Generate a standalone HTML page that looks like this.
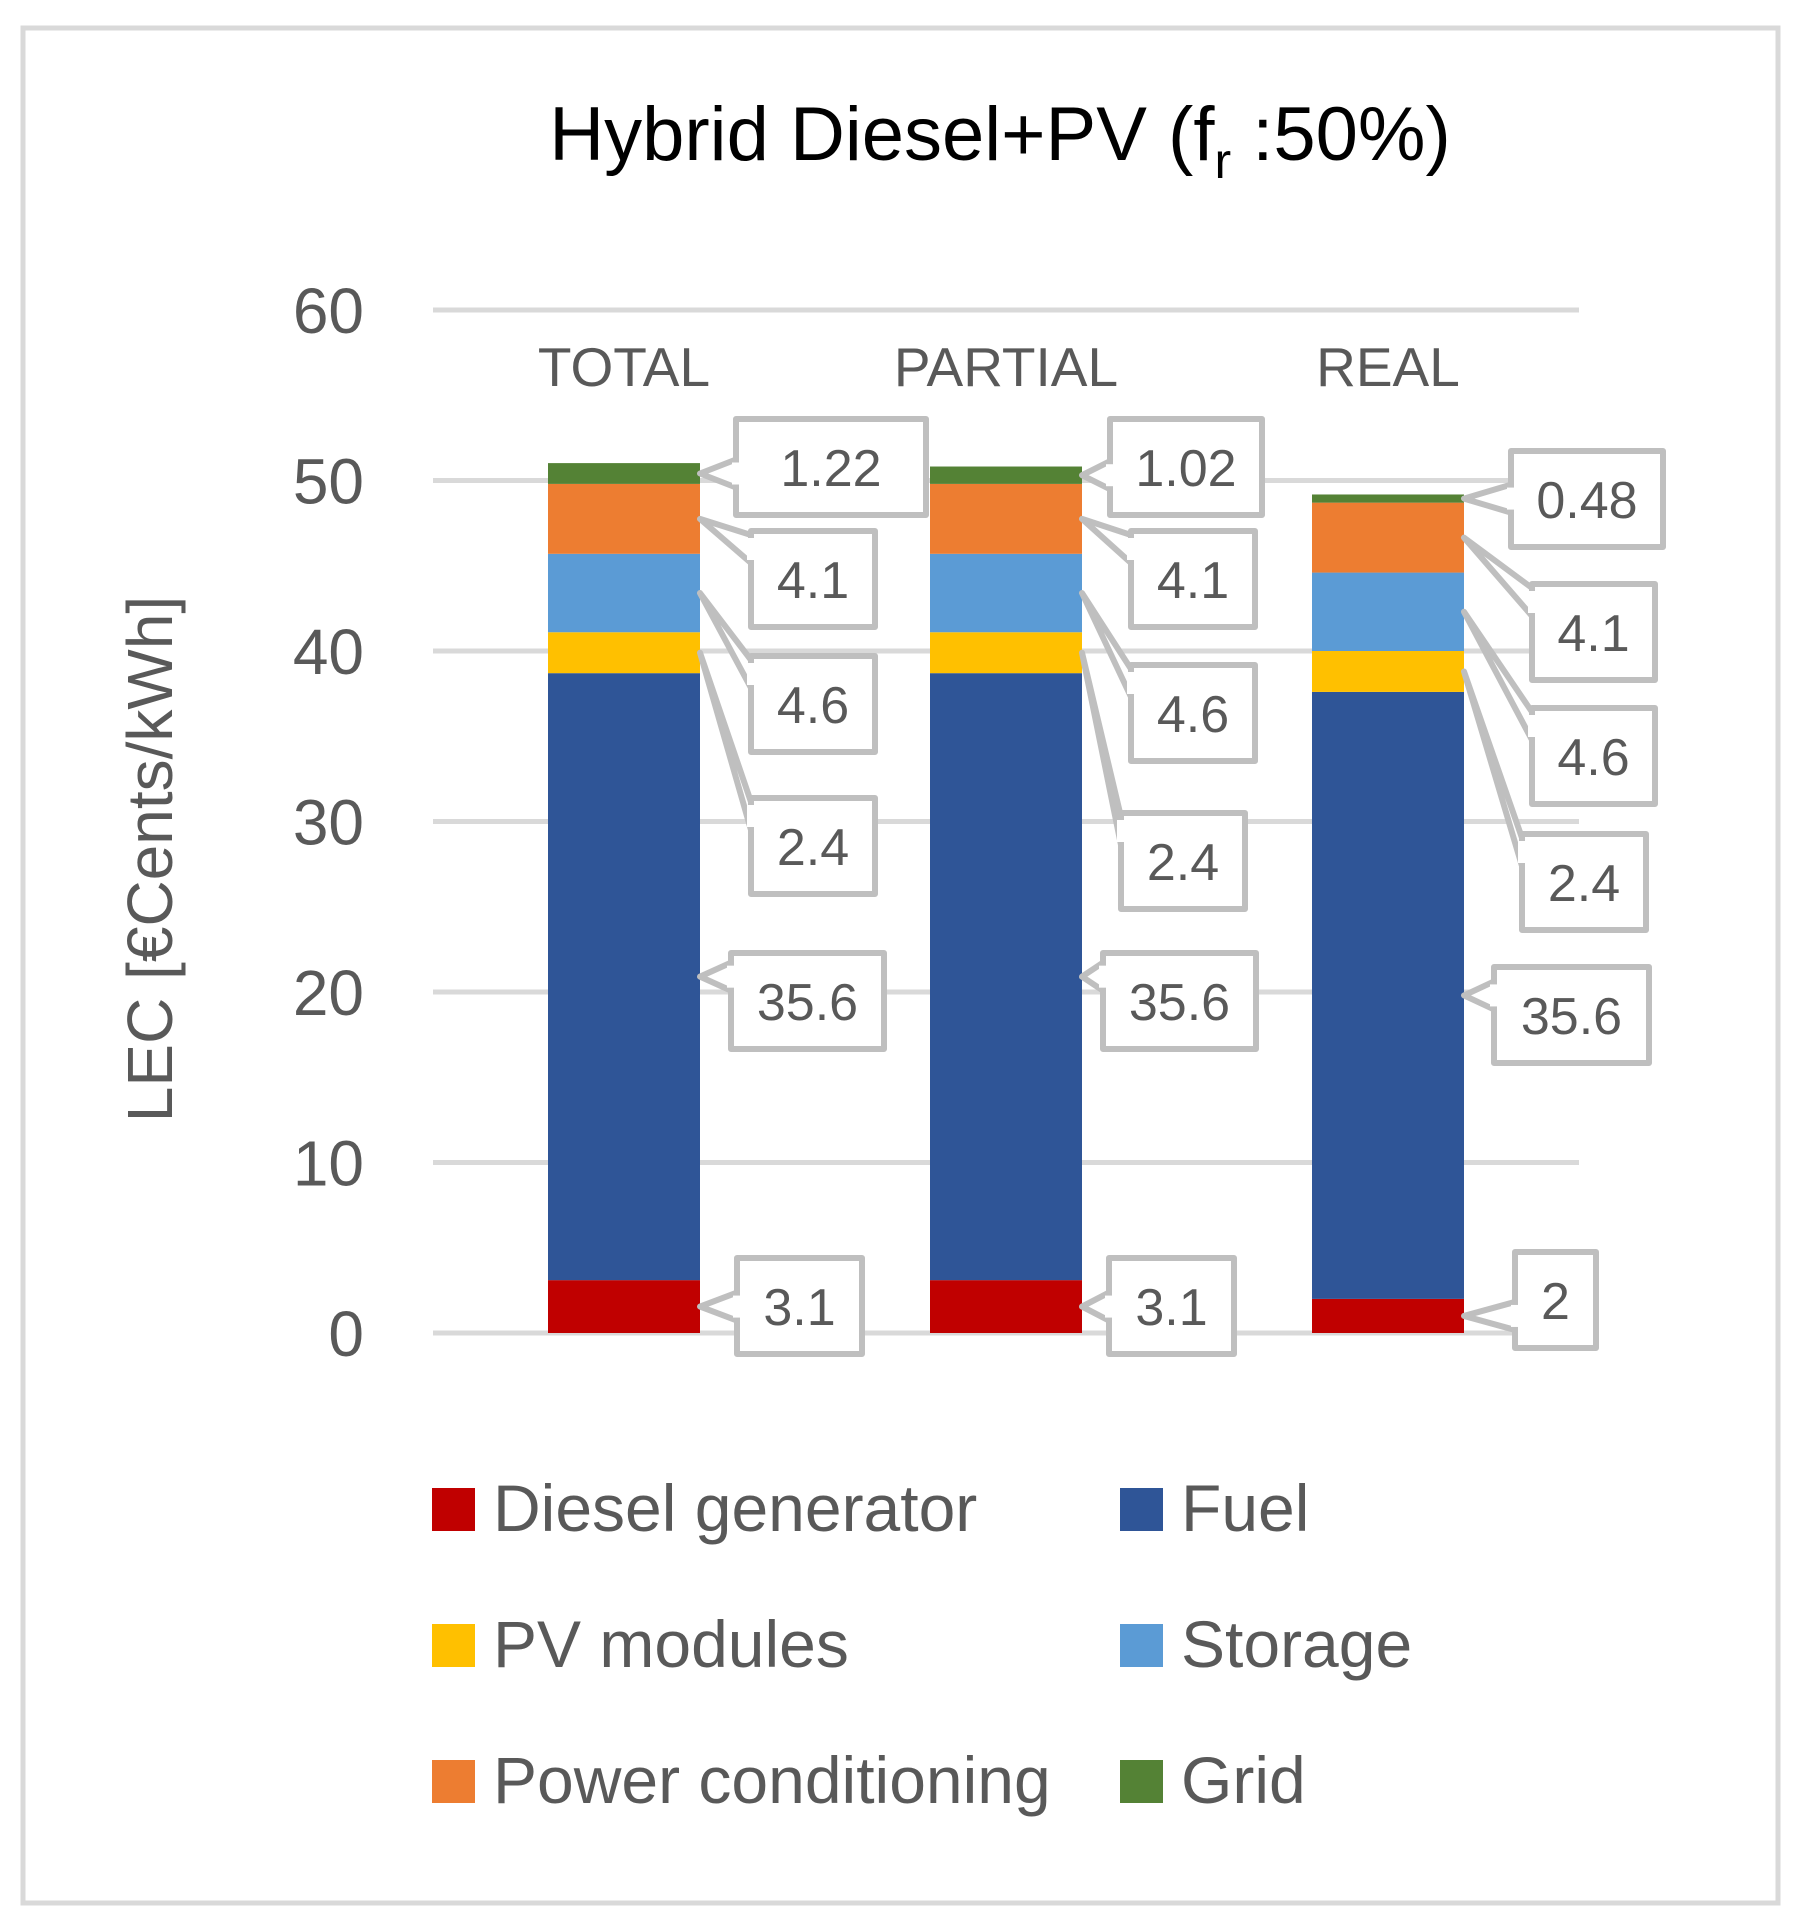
<!DOCTYPE html>
<html><head><meta charset="utf-8"><style>
html,body{margin:0;padding:0;background:#fff}
svg{display:block}
text{font-family:"Liberation Sans",sans-serif;fill:#595959}
</style></head><body>
<svg id="chart" width="1797" height="1920" viewBox="0 0 1797 1920">
<rect x="23" y="28" width="1755" height="1875" fill="#fff" stroke="#d9d9d9" stroke-width="5"/>
<text x="1000" y="160" font-size="76" text-anchor="middle" style="fill:#000">Hybrid Diesel+PV (f<tspan font-size="50" dy="18">r</tspan><tspan dy="-18"> :50%)</tspan></text>
<text transform="translate(172,859) rotate(-90)" font-size="64" text-anchor="middle">LEC [€Cents/kWh]</text>
<g id="grid"></g><g id="bars"></g><g id="labels"></g><g id="legend"></g>
</svg>
<script>
const categories = ["TOTAL","PARTIAL","REAL"];
const seriesNames = ["Diesel generator","Fuel","PV modules","Storage","Power conditioning","Grid"];
const seriesColors = ["#c00000","#2f5597","#ffc000","#5b9bd5","#ed7d31","#548235"];
const dieselGen = [3.1,3.1,2];
const fuel = [35.6,35.6,35.6];
const pvModules = [2.4,2.4,2.4];
const storage = [4.6,4.6,4.6];
const powerCond = [4.1,4.1,4.1];
const grid = [1.22,1.02,0.48];
const yTicks = [0,10,20,30,40,50,60];
const series = [dieselGen,fuel,pvModules,storage,powerCond,grid];
// label box layout: [dx from bar right, top, width] per category, per series
const boxLayout = [
 [[37,1258,125],[31,953,153],[51,798,124],[51,656,124],[51,531,124],[36,419,190]],
 [[27,1258,125],[21,953,153],[39,813,124],[49,665,124],[49,531,124],[28,419,152]],
 [[51,1252,81],[30,967,155],[58,834,124],[68,708,123],[68,584,123],[47,451,152]]
];
const NS="http://www.w3.org/2000/svg";
const X0=433,X1=1579,Y0=1333,YMAX=60,PH=1023;
const y=v=>Y0-v/YMAX*PH;
const band=(X1-X0)/categories.length;
const xc=i=>X0+band*(i+0.5);
const BW=152;
function mk(t,a,p){const e=document.createElementNS(NS,t);for(const k in a)e.setAttribute(k,a[k]);p.appendChild(e);return e;}
const gG=document.getElementById('grid');
yTicks.forEach(t=>{
 const l=mk('line',{x1:X0,x2:X1,y1:y(t),y2:y(t),stroke:'#d9d9d9','stroke-width':5},gG);
 
 
 const tx=mk('text',{x:364,y:y(t)+23,'font-size':64,'text-anchor':'end'},gG);
 tx.textContent=t;
 
 
});
const bG=document.getElementById('bars'),lG=document.getElementById('labels');
categories.forEach((c,i)=>{
 const ct=mk('text',{x:xc(i),y:386,'font-size':55,'text-anchor':'middle'},bG);
 ct.textContent=c;
 
 
 let base=0;
 series.forEach((s,k)=>{
  const v=s[i];
  const r=mk('rect',{x:xc(i)-BW/2,y:y(base+v),width:BW,height:y(base)-y(base+v),fill:seriesColors[k]},bG);
  
  
  const ay=y(base+v/2),ax=xc(i)+BW/2;
  const [dx,top,w]=boxLayout[i][k];const h=96;const bx=ax+dx;
  const g=mk('g',{},lG);
  
  
  mk('rect',{x:bx,y:top,width:w,height:h,fill:'#fff',stroke:'#bfbfbf','stroke-width':6,'stroke-linejoin':'round'},g);
  const cy=Math.max(top+18,Math.min(top+h-18,ay));
  const y1=Math.max(top,cy-14),y2=Math.min(top+h,cy+14);
  mk('polygon',{points:`${bx},${y1} ${ax},${ay} ${bx},${y2}`,fill:'#fff',stroke:'#bfbfbf','stroke-width':6,'stroke-linejoin':'round'},g);
  mk('line',{x1:bx,x2:bx,y1:y1+3,y2:y2-3,stroke:'#fff','stroke-width':8},g);
  const t=mk('text',{x:bx+w/2,y:top+h/2+19,'font-size':52,'text-anchor':'middle'},g);
  t.textContent=v;
  base+=v;
 });
});
const leg=document.getElementById('legend');
seriesNames.forEach((n,k)=>{
 const col=k%2,row=Math.floor(k/2);
 const sx=col?1120:432,cy=1508+row*136;
 const g=mk('g',{},leg);
 
 
 mk('rect',{x:sx,y:cy-20,width:43,height:43,fill:seriesColors[k]},g);
 const t=mk('text',{x:sx+61,y:cy+23,'font-size':66},g);t.textContent=n;
});
</script>
</body></html>
